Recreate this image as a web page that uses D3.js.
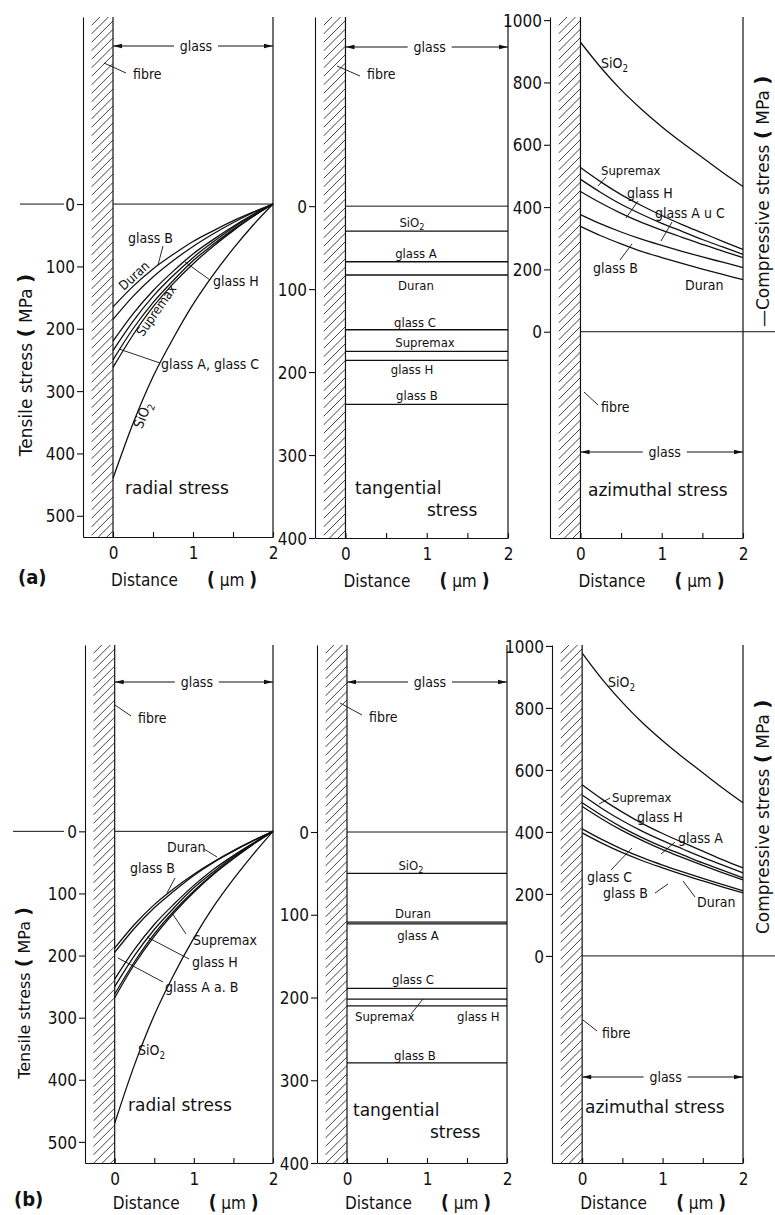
<!DOCTYPE html>
<html>
<head>
<meta charset="utf-8">
<script src="https://cdn.jsdelivr.net/npm/d3@7"></script>
<style>
  body { margin: 0; background: #fff; }
  svg text { font-family: "DejaVu Sans Condensed", "DejaVu Sans", sans-serif; fill: #111; }
  svg text.wide { font-family: "DejaVu Sans", sans-serif; }
</style>
</head>
<body>
<svg id="fig" width="775" height="1215"></svg>
<script>
// Distance from the fibre surface (µm) at which the profiles are sampled
const distance = [0, 0.25, 0.5, 0.75, 1, 1.25, 1.5, 1.75, 2];
const layerEnds = [0, 2];

// Axis ticks
const radialTicks = [0, 100, 200, 300, 400, 500];
const tangentialTicks = [0, 100, 200, 300, 400];
const azimuthalTicks = [0, 200, 400, 600, 800, 1000];
const distanceTicks = [0, 0.5, 1, 1.5, 2];

// (a) radial stress, tensile (MPa)
const radialNamesA = ["SiO2", "Duran", "glass B", "glass H", "Supremax", "glass A", "glass C"];
const radialA = [
  [440, 352, 277, 216, 161, 114, 72, 34, 0],
  [165, 132, 104, 81, 60, 43, 27, 13, 0],
  [185, 148, 117, 91, 68, 48, 30, 14, 0],
  [220, 176, 139, 108, 80, 57, 36, 17, 0],
  [235, 188, 148, 115, 86, 61, 38, 18, 0],
  [250, 200, 158, 123, 91, 65, 41, 20, 0],
  [262, 210, 165, 128, 96, 68, 43, 20, 0]
];
// (a) tangential stress, tensile (MPa) – constant through the layer
const tangentialNamesA = ["SiO2", "glass A", "Duran", "glass C", "Supremax", "glass H", "glass B"];
const tangentialA = [30, 67, 83, 149, 175, 186, 239];
// (a) azimuthal stress, compressive (MPa)
const azimuthalNamesA = ["SiO2", "Supremax", "glass H", "glass A u C", "glass B", "Duran"];
const azimuthalA = [
  [929, 848, 776, 714, 658, 607, 559, 511, 466],
  [527, 481, 440, 405, 373, 344, 317, 290, 264],
  [489, 447, 409, 377, 348, 322, 296, 272, 248],
  [450, 413, 380, 351, 326, 303, 280, 259, 238],
  [376, 346, 320, 297, 277, 258, 240, 223, 206],
  [338, 308, 282, 258, 238, 219, 201, 184, 167]
];

// (b) radial stress, tensile (MPa)
const radialNamesB = ["SiO2", "Duran", "glass B", "Supremax", "glass H", "glass A", "glass C"];
const radialB = [
  [470, 376, 296, 230, 172, 121, 77, 37, 0],
  [188, 150, 118, 92, 69, 49, 31, 15, 0],
  [195, 156, 123, 96, 71, 50, 32, 15, 0],
  [238, 190, 150, 117, 87, 61, 39, 19, 0],
  [250, 200, 158, 123, 91, 65, 41, 20, 0],
  [262, 210, 165, 128, 96, 68, 43, 20, 0],
  [268, 214, 169, 131, 98, 69, 44, 21, 0]
];
// (b) tangential stress, tensile (MPa)
const tangentialNamesB = ["SiO2", "Duran", "glass A", "glass C", "Supremax", "glass H", "glass B"];
const tangentialB = [50, 109, 111, 189, 202, 210, 279];
// (b) azimuthal stress, compressive (MPa)
const azimuthalNamesB = ["SiO2", "Supremax", "glass H", "glass A", "glass C", "glass B", "Duran"];
const azimuthalB = [
  [977, 892, 818, 752, 694, 641, 591, 541, 494],
  [552, 505, 464, 427, 395, 366, 338, 310, 284],
  [519, 475, 436, 402, 372, 345, 318, 293, 268],
  [494, 452, 414, 381, 352, 326, 300, 276, 252],
  [482, 441, 404, 372, 343, 317, 292, 268, 245],
  [410, 375, 344, 317, 293, 271, 250, 230, 210],
  [397, 363, 333, 307, 284, 262, 242, 222, 203]
];

const svg = d3.select("#fig");
const INK = "#111";

function label(g, x, y, str, size, opt = {}) {
  const t = g.append("text")
    .attr("x", x).attr("y", y)
    .attr("font-size", size)
    .attr("text-anchor", opt.anchor || "start");
  if (opt.wide) t.attr("class", "wide");
  if (opt.rotate) t.attr("transform", `rotate(${opt.rotate},${x},${y})`);
  if (opt.weight) t.attr("font-weight", opt.weight);
  t.text(str);
  if (opt.sub) t.append("tspan").attr("font-size", size * 0.7).attr("dy", size * 0.25).text(opt.sub);
  return t;
}

function leader(g, x1, y1, x2, y2) {
  g.append("line").attr("x1", x1).attr("y1", y1).attr("x2", x2).attr("y2", y2)
    .attr("stroke", INK).attr("stroke-width", 0.9);
}

// Double-headed "glass" dimension arrow spanning the layer
function glassArrow(g, xa, xb, yy, size) {
  const mid = (xa + xb) / 2 + 3;
  const gap = 22;
  g.append("path").attr("d", `M${xa},${yy}H${mid - gap}M${mid + gap},${yy}H${xb}`)
    .attr("stroke", INK).attr("stroke-width", 1).attr("fill", "none");
  g.append("path").attr("d", `M${xa},${yy}l9,-2.3v4.6z`).attr("fill", INK);
  g.append("path").attr("d", `M${xb},${yy}l-9,-2.3v4.6z`).attr("fill", INK);
  label(g, mid, yy + 4.5, "glass", size, { anchor: "middle" });
}

function drawPanel(p) {
  const g = svg.append("g");
  const x = d3.scaleLinear().domain([-0.375, 2]).range([p.left, p.right]);
  const y = d3.scaleLinear().domain(p.yDomain).range([p.top, p.bottom]);

  // fibre cross-hatching
  const clipId = "clip-" + p.id;
  const fx0 = x(-0.27), fx1 = x(0), fw = fx1 - fx0;
  g.append("clipPath").attr("id", clipId).append("rect")
    .attr("x", fx0).attr("y", p.top).attr("width", fw).attr("height", p.bottom - p.top);
  const hatch = g.append("g").attr("clip-path", `url(#${clipId})`);
  for (let yy = p.top - fw; yy < p.bottom + fw; yy += 8.5) {
    hatch.append("line")
      .attr("x1", fx0).attr("y1", yy + fw).attr("x2", fx1).attr("y2", yy)
      .attr("stroke", INK).attr("stroke-width", 0.8);
  }

  // stress axis
  const ya = g.append("g").attr("transform", `translate(${p.left},0)`)
    .call(d3.axisLeft(y).tickValues(p.ticks).tickSizeInner(6).tickSizeOuter(0).tickPadding(2).tickFormat(d3.format("d")));
  ya.attr("font-family", null).attr("font-size", null);
  ya.selectAll("text").attr("font-size", 17).attr("dy", "0.36em");
  ya.selectAll("path,line").attr("stroke", INK).attr("stroke-width", 1.1);

  // distance axis, ticks pointing inward
  const xa = g.append("g").attr("transform", `translate(0,${p.bottom})`)
    .call(d3.axisBottom(x).tickValues(distanceTicks).tickSizeInner(-5).tickSizeOuter(0).tickPadding(10)
      .tickFormat(d => Number.isInteger(d) ? d : ""));
  xa.attr("font-family", null).attr("font-size", null);
  xa.selectAll("text").attr("font-size", 17);
  xa.selectAll("path,line").attr("stroke", INK).attr("stroke-width", 1.1);

  // fibre surface and outer glass surface
  [0, 2].forEach(d => {
    g.append("line").attr("x1", x(d)).attr("x2", x(d)).attr("y1", p.top).attr("y2", p.bottom)
      .attr("stroke", INK).attr("stroke-width", 1.2);
  });

  // zero stress line
  g.append("line").attr("x1", x(0)).attr("x2", p.zeroEnd || x(2)).attr("y1", y(0)).attr("y2", y(0))
    .attr("stroke", INK).attr("stroke-width", 1);

  // stress profiles
  const line = d3.line().x(d => x(d[0])).y(d => y(d[1])).curve(d3.curveMonotoneX);
  p.series.forEach(vals => {
    const pts = vals.length === 1 ? layerEnds.map(d => [d, vals[0]]) : distance.map((d, i) => [d, vals[i]]);
    g.append("path").attr("d", line(pts)).attr("fill", "none")
      .attr("stroke", INK).attr("stroke-width", 1.3);
  });

  // distance axis title
  const ty = p.bottom + p.titleOffset;
  label(g, x(0) - 2, ty, "Distance", 17);
  const u = label(g, x(0) + 94, ty, "", 17);
  u.append("tspan").attr("font-weight", "bold").attr("font-size", 19).text("(");
  u.append("tspan").text(" µm ");
  u.append("tspan").attr("font-weight", "bold").attr("font-size", 19).text(")");

  return { g, x, y };
}

function axisTitle(x, y, rot, lead, anchor, size) {
  const t = svg.append("text").attr("class", "wide").attr("x", x).attr("y", y).attr("font-size", size)
    .attr("text-anchor", anchor).attr("transform", `rotate(${rot},${x},${y})`);
  t.append("tspan").text(lead);
  t.append("tspan").attr("font-weight", "bold").attr("font-size", size + 3).text("(");
  t.append("tspan").text(" MPa ");
  t.append("tspan").attr("font-weight", "bold").attr("font-size", size + 3).text(")");
}

// ---------- row (a) ----------
const a1 = drawPanel({ id: "a1", left: 83, right: 273, top: 17, bottom: 537, yDomain: [-300, 534], ticks: radialTicks,
  series: radialA, titleOffset: 49 });
const a2 = drawPanel({ id: "a2", left: 315, right: 508, top: 17, bottom: 538, yDomain: [-228, 400], ticks: tangentialTicks,
  series: tangentialA.map(v => [v]), titleOffset: 49 });
const a3 = drawPanel({ id: "a3", left: 550, right: 743, top: 17, bottom: 538, yDomain: [1010, -662], ticks: azimuthalTicks,
  series: azimuthalA, zeroEnd: 775, titleOffset: 49 });

// ---------- row (b) ----------
const b1 = drawPanel({ id: "b1", left: 85, right: 273, top: 645, bottom: 1163, yDomain: [-300, 534], ticks: radialTicks,
  series: radialB, titleOffset: 46 });
const b2 = drawPanel({ id: "b2", left: 317, right: 507, top: 645, bottom: 1163, yDomain: [-226, 400], ticks: tangentialTicks,
  series: tangentialB.map(v => [v]), titleOffset: 46 });
const b3 = drawPanel({ id: "b3", left: 552, right: 743, top: 645, bottom: 1163, yDomain: [1003, -668], ticks: azimuthalTicks,
  series: azimuthalB, zeroEnd: 775, titleOffset: 46 });

// zero markers to the left of the radial axes
svg.append("line").attr("x1", 20).attr("x2", 64).attr("y1", a1.y(0)).attr("y2", a1.y(0)).attr("stroke", INK).attr("stroke-width", 1);
svg.append("line").attr("x1", 13).attr("x2", 64).attr("y1", b1.y(0)).attr("y2", b1.y(0)).attr("stroke", INK).attr("stroke-width", 1);

// axis titles
axisTitle(32, 365, -90, "Tensile stress  ", "middle", 17);
axisTitle(30, 993, -90, "Tensile stress  ", "middle", 16);
axisTitle(769, 327, -90, "—Compressive stress  ", "start", 17);
axisTitle(769, 934, -90, "Compressive stress  ", "start", 17);

label(svg, 18, 584, "(a)", 20, { weight: "bold" });
label(svg, 14, 1206, "(b)", 20, { weight: "bold" });

// ---------- annotations (a) radial ----------
let g = a1.g;
glassArrow(g, a1.x(0), a1.x(2), 46, 14);
label(g, 133, 79, "fibre", 14); leader(g, 104, 63, 126, 73);
label(g, 128, 243, "glass B", 14); leader(g, 163, 246, 158, 265);
label(g, 137, 279, "Duran", 13, { rotate: -42, anchor: "middle" });
label(g, 213, 286, "glass H", 14); leader(g, 185, 262, 210, 280);
label(g, 160, 313, "Supremax", 13, { rotate: -55, anchor: "middle" });
label(g, 161, 369, "glass A, glass C", 14); leader(g, 160, 363, 119, 349);
label(g, 147, 417, "SiO", 14, { rotate: -68, anchor: "middle", sub: "2" });
label(g, 125, 494, "radial stress", 17, { wide: true });

// (a) tangential
g = a2.g;
glassArrow(g, a2.x(0), a2.x(2), 47, 14);
label(g, 367, 79, "fibre", 14); leader(g, 337, 66, 360, 76);
const tanLabA = [
  ["SiO", 412, 227, "2"], ["glass A", 416, 258], ["Duran", 416, 290], ["glass C", 415, 327],
  ["Supremax", 425, 347], ["glass H", 412, 374], ["glass B", 417, 400]
];
tanLabA.forEach(d => label(g, d[1], d[2], d[0], 13, { anchor: "middle", sub: d[3] }));
label(g, 355, 494, "tangential", 17, { wide: true });
label(g, 427, 516, "stress", 17, { wide: true });

// (a) azimuthal
g = a3.g;
label(g, 601, 68, "SiO", 14, { sub: "2" });
label(g, 601, 175, "Supremax", 13); leader(g, 606, 177, 598, 186);
label(g, 627, 198, "glass H", 14); leader(g, 638, 201, 626, 218);
label(g, 655, 218, "glass A u C", 14); leader(g, 672, 222, 661, 241);
label(g, 593, 273, "glass B", 14); leader(g, 620, 260, 632, 244);
label(g, 685, 290, "Duran", 14);
label(g, 601, 412, "fibre", 14); leader(g, 584, 392, 598, 405);
glassArrow(g, a3.x(0), a3.x(2), 452, 14);
label(g, 588, 496, "azimuthal stress", 17, { wide: true });

// ---------- annotations (b) radial ----------
g = b1.g;
glassArrow(g, b1.x(0), b1.x(2), 682, 14);
label(g, 138, 723, "fibre", 14); leader(g, 115, 705, 131, 716);
label(g, 167, 852, "Duran", 14); leader(g, 204, 849, 217, 857);
label(g, 130, 873, "glass B", 14); leader(g, 175, 878, 167, 893);
label(g, 193, 945, "Supremax", 14); leader(g, 186, 934, 172, 913);
label(g, 192, 967, "glass H", 14); leader(g, 189, 959, 147, 937);
label(g, 165, 992, "glass A a. B", 14); leader(g, 163, 982, 118, 958);
label(g, 138, 1055, "SiO", 14, { sub: "2" });
label(g, 128, 1111, "radial stress", 17, { wide: true });

// (b) tangential
g = b2.g;
glassArrow(g, b2.x(0), b2.x(2), 682, 14);
label(g, 369, 722, "fibre", 14); leader(g, 340, 703, 362, 715);
const tanLabB = [
  ["SiO", 411, 870, "2"], ["Duran", 413, 918], ["glass A", 418, 940], ["glass C", 413, 984], ["glass B", 415, 1060]
];
tanLabB.forEach(d => label(g, d[1], d[2], d[0], 13, { anchor: "middle", sub: d[3] }));
label(g, 355, 1021, "Supremax", 13); leader(g, 411, 1014, 423, 999);
label(g, 457, 1021, "glass H", 13);
label(g, 353, 1116, "tangential", 17, { wide: true });
label(g, 430, 1138, "stress", 17, { wide: true });

// (b) azimuthal
g = b3.g;
label(g, 608, 687, "SiO", 14, { sub: "2" });
label(g, 612, 802, "Supremax", 13); leader(g, 610, 798, 599, 804);
label(g, 637, 822, "glass H", 14);
label(g, 678, 843, "glass A", 14); leader(g, 675, 842, 661, 854);
label(g, 587, 882, "glass C", 14); leader(g, 611, 870, 632, 848);
label(g, 603, 898, "glass B", 14); leader(g, 655, 893, 668, 884);
label(g, 697, 907, "Duran", 14); leader(g, 695, 897, 683, 881);
label(g, 602, 1038, "fibre", 14); leader(g, 583, 1020, 597, 1031);
glassArrow(g, b3.x(0), b3.x(2), 1077, 14);
label(g, 585, 1113, "azimuthal stress", 17, { wide: true });
</script>
</body>
</html>
